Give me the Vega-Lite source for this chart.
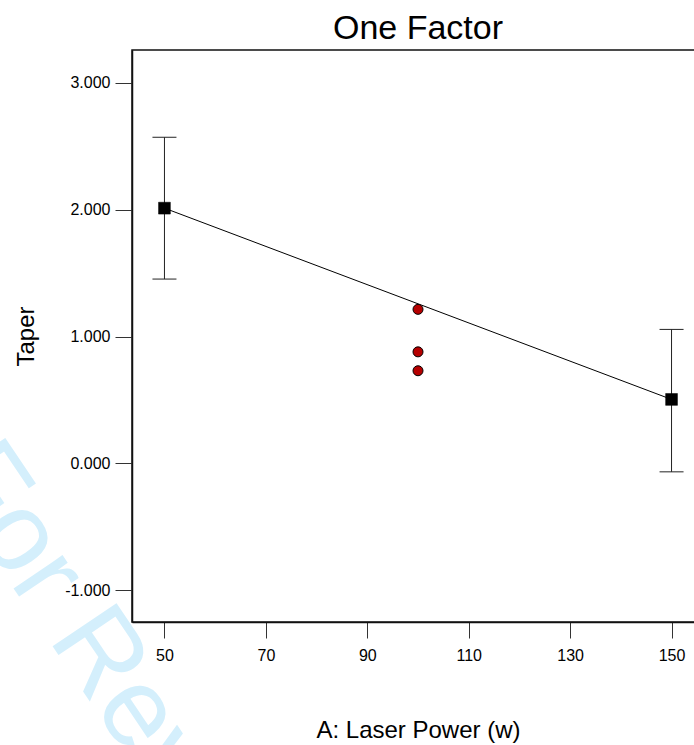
{
  "$schema": "https://vega.github.io/schema/vega-lite/v6.json",
  "width": 572,
  "height": 572,
  "autosize": {"type": "none"},
  "padding": {"left": 132, "top": 50, "right": 0, "bottom": 123},
  "background": "white",
  "title": {
    "text": "One Factor",
    "font": "Liberation Sans",
    "fontSize": 34,
    "fontWeight": "normal",
    "color": "black",
    "anchor": "middle",
    "frame": "group",
    "offset": 4
  },
  "config": {
    "view": {"stroke": "#111", "strokeWidth": 1.5},
    "axis": {
      "grid": false,
      "labelFont": "Liberation Sans",
      "labelFontSize": 16,
      "labelColor": "black",
      "titleFont": "Liberation Sans",
      "titleFontSize": 24,
      "titleFontWeight": "normal",
      "titleColor": "black",
      "domainColor": "#111",
      "domainWidth": 1.5,
      "tickColor": "#333",
      "tickWidth": 1
    }
  },
  "datasets": {
    "wm": [{"x": 5.0, "y": -0.08, "label": "For Review Only"}],
    "means": [
      {"x": 50, "y": 2.013, "lo": 1.454, "hi": 2.572},
      {"x": 150, "y": 0.505, "lo": -0.066, "hi": 1.057}
    ],
    "obs": [
      {"x": 100, "y": 1.215},
      {"x": 100, "y": 0.880},
      {"x": 100, "y": 0.731}
    ]
  },
  "encoding": {
    "x": {
      "field": "x",
      "type": "quantitative",
      "scale": {"domain": [43.6, 156.4], "nice": false, "zero": false},
      "axis": {
        "title": "A: Laser Power (w)",
        "values": [50, 70, 90, 110, 130, 150],
        "tickSize": 16,
        "labelPadding": 9,
        "titlePadding": 55
      }
    },
    "y": {
      "field": "y",
      "type": "quantitative",
      "scale": {"domain": [-1.25, 3.26], "nice": false, "zero": false},
      "axis": {
        "title": "Taper",
        "values": [-1, 0, 1, 2, 3],
        "format": ".3f",
        "labelExpr": "replace(datum.label, '\u2212', '-')",
        "tickSize": 17,
        "labelPadding": 5,
        "titlePadding": 26
      }
    }
  },
  "layer": [
    {
      "data": {"name": "wm"},
      "mark": {
        "type": "text",
        "font": "Liberation Sans",
        "fontSize": 112,
        "angle": 56,
        "align": "left",
        "baseline": "alphabetic",
        "color": "#d4effc",
        "clip": false
      },
      "encoding": {"text": {"field": "label"}}
    },
    {
      "data": {"name": "means"},
      "mark": {"type": "rule", "color": "#222", "strokeWidth": 1},
      "encoding": {
        "y": {"field": "lo", "type": "quantitative", "title": "Taper"},
        "y2": {"field": "hi"}
      }
    },
    {
      "data": {"name": "means"},
      "mark": {"type": "tick", "orient": "horizontal", "size": 24, "thickness": 1, "color": "#222", "opacity": 1},
      "encoding": {
        "y": {"field": "lo", "type": "quantitative", "title": "Taper"}
      }
    },
    {
      "data": {"name": "means"},
      "mark": {"type": "tick", "orient": "horizontal", "size": 24, "thickness": 1, "color": "#222", "opacity": 1},
      "encoding": {
        "y": {"field": "hi", "type": "quantitative", "title": "Taper"}
      }
    },
    {
      "data": {"name": "means"},
      "mark": {"type": "line", "color": "black", "strokeWidth": 1},
      "encoding": {}
    },
    {
      "data": {"name": "means"},
      "mark": {"type": "point", "shape": "square", "filled": true, "fill": "black", "stroke": "black", "strokeWidth": 0.5, "size": 140, "opacity": 1},
      "encoding": {}
    },
    {
      "data": {"name": "obs"},
      "mark": {"type": "point", "shape": "circle", "filled": true, "fill": "#b50000", "stroke": "black", "strokeWidth": 1, "size": 100, "opacity": 1},
      "encoding": {}
    }
  ]
}
